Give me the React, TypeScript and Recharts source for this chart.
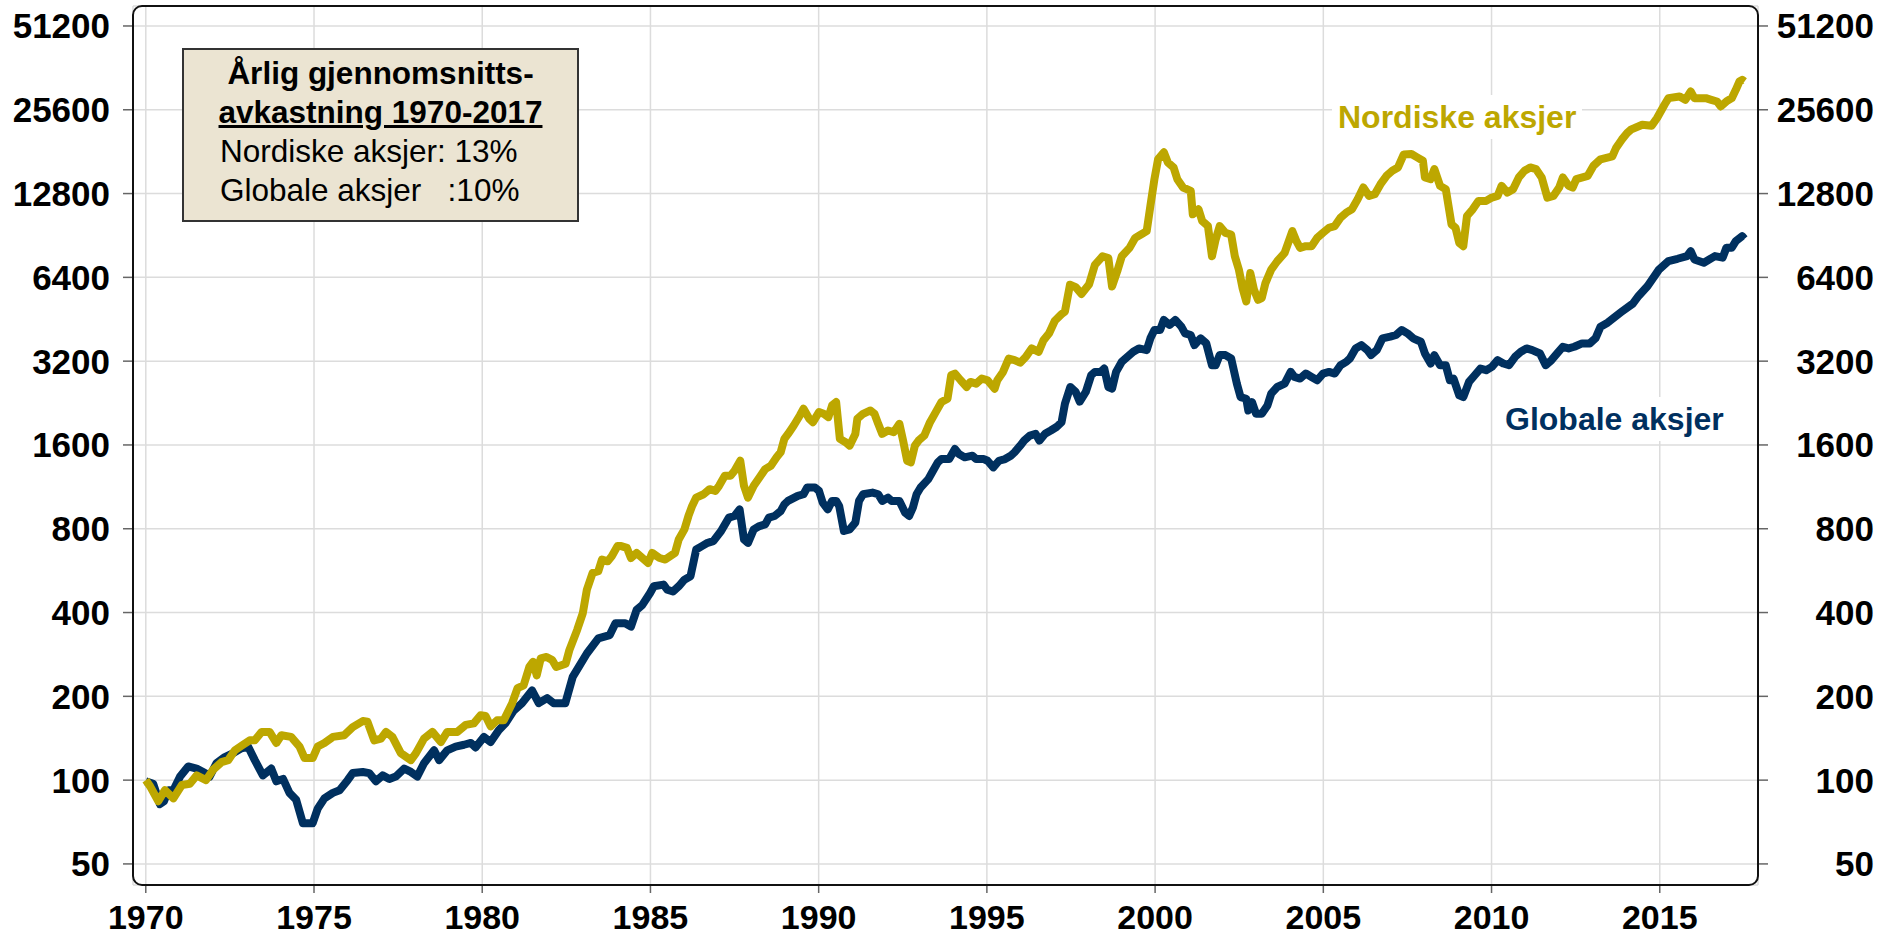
import { LineChart, Line, XAxis, YAxis, CartesianGrid } from 'recharts';

// Index level (1970 = 100). [year, value]
const NORDIC: [number, number][] = [
  [1970.0, 100], [1970.13, 95], [1970.37, 84], [1970.57, 92], [1970.82, 86], [1971.07, 96], [1971.31, 97],
  [1971.51, 104], [1971.79, 100], [1972.0, 109], [1972.25, 116], [1972.45, 118], [1972.65, 128], [1972.89, 134],
  [1973.09, 139], [1973.24, 139], [1973.44, 149], [1973.68, 149], [1973.88, 136], [1974.03, 145], [1974.32, 143],
  [1974.57, 132], [1974.72, 120], [1974.96, 120], [1975.11, 132], [1975.31, 136], [1975.56, 143], [1975.9, 145],
  [1976.15, 155], [1976.45, 163], [1976.59, 162], [1976.79, 139], [1976.99, 141], [1977.14, 149], [1977.33, 143],
  [1977.58, 125], [1977.88, 118], [1978.03, 125], [1978.27, 141], [1978.52, 149], [1978.77, 137], [1978.96, 149],
  [1979.26, 149], [1979.51, 158], [1979.75, 160], [1979.95, 171], [1980.1, 170], [1980.25, 156], [1980.44, 164],
  [1980.64, 164], [1980.89, 189], [1981.05, 214], [1981.23, 219], [1981.4, 255], [1981.51, 266], [1981.62, 238],
  [1981.74, 274], [1981.91, 277], [1982.08, 270], [1982.2, 255], [1982.48, 262], [1982.59, 293], [1982.82, 346],
  [1982.99, 398], [1983.11, 483], [1983.28, 555], [1983.45, 563], [1983.56, 620], [1983.73, 611], [1983.85, 637],
  [1984.02, 693], [1984.13, 693], [1984.3, 683], [1984.42, 628], [1984.59, 655], [1984.76, 628], [1984.93, 603],
  [1985.05, 655], [1985.27, 628], [1985.44, 620], [1985.73, 655], [1985.84, 732], [1986.01, 796], [1986.13, 889],
  [1986.24, 966], [1986.36, 1035], [1986.58, 1064], [1986.76, 1110], [1986.93, 1094], [1987.04, 1141], [1987.21, 1240],
  [1987.38, 1240], [1987.5, 1292], [1987.67, 1404], [1987.78, 1141], [1987.9, 1035], [1988.07, 1141], [1988.24, 1222],
  [1988.41, 1310], [1988.58, 1347], [1988.75, 1444], [1988.87, 1505], [1988.98, 1682], [1989.09, 1753], [1989.26, 1879],
  [1989.44, 2042], [1989.55, 2158], [1989.72, 1986], [1989.83, 1932], [1990.01, 2099], [1990.15, 2070], [1990.29, 2014],
  [1990.4, 2219], [1990.52, 2281], [1990.63, 1682], [1990.8, 1636], [1990.92, 1591], [1991.09, 1753], [1991.15, 1986],
  [1991.32, 2070], [1991.54, 2128], [1991.66, 2070], [1991.77, 1905], [1991.89, 1753], [1992.06, 1803], [1992.23, 1778],
  [1992.4, 1905], [1992.51, 1659], [1992.63, 1404], [1992.74, 1385], [1992.86, 1591], [1992.97, 1659], [1993.14, 1729],
  [1993.31, 1932], [1993.48, 2099], [1993.65, 2281], [1993.83, 2345], [1993.94, 2848], [1994.05, 2888], [1994.22, 2732],
  [1994.4, 2584], [1994.51, 2694], [1994.68, 2657], [1994.85, 2770], [1995.02, 2732], [1995.23, 2548], [1995.31, 2732],
  [1995.48, 2928], [1995.65, 3272], [1995.82, 3227], [1995.99, 3160], [1996.16, 3317], [1996.33, 3555], [1996.54, 3458],
  [1996.68, 3800], [1996.85, 4030], [1997.02, 4470], [1997.22, 4720], [1997.32, 4823], [1997.47, 6021], [1997.64, 5900],
  [1997.81, 5580], [1998.04, 6050], [1998.21, 7100], [1998.44, 7620], [1998.61, 7514], [1998.72, 5938], [1998.89, 6822],
  [1999.01, 7620], [1999.24, 8167], [1999.41, 8875], [1999.58, 9125], [1999.75, 9382], [1999.86, 11553], [1999.98, 14423],
  [2000.09, 17032], [2000.26, 18004], [2000.38, 16566], [2000.55, 15890], [2000.66, 14423], [2000.83, 13457], [2001.06, 13088],
  [2001.12, 10779], [2001.29, 11237], [2001.4, 10200], [2001.57, 9784], [2001.69, 7620], [2001.8, 8753], [2001.92, 9784],
  [2002.09, 9253], [2002.26, 9125], [2002.37, 7620], [2002.49, 6822], [2002.6, 5856], [2002.71, 5242], [2002.83, 6635],
  [2002.94, 5775], [2003.06, 5315], [2003.17, 5389], [2003.28, 6105], [2003.45, 6822], [2003.63, 7311], [2003.85, 7835],
  [2004.08, 9382], [2004.2, 8633], [2004.31, 8167], [2004.48, 8281], [2004.65, 8281], [2004.82, 8875], [2004.99, 9253],
  [2005.17, 9646], [2005.34, 9784], [2005.51, 10486], [2005.68, 10930], [2005.85, 11237], [2006.02, 12212], [2006.19, 13457],
  [2006.36, 12555], [2006.53, 12731], [2006.7, 13835], [2006.88, 14828], [2007.05, 15457], [2007.22, 15890], [2007.39, 17700],
  [2007.62, 17756], [2007.79, 17273], [2007.96, 16797], [2008.02, 14624], [2008.19, 14423], [2008.3, 15671], [2008.47, 13642],
  [2008.64, 13270], [2008.81, 9919], [2008.93, 9646], [2009.04, 8516], [2009.16, 8281], [2009.27, 10632], [2009.44, 11237],
  [2009.61, 12046], [2009.84, 12046], [2010.01, 12383], [2010.18, 12555], [2010.3, 13642], [2010.47, 12906], [2010.64, 13270],
  [2010.81, 14624], [2010.98, 15457], [2011.15, 15890], [2011.32, 15671], [2011.49, 14624], [2011.66, 12383], [2011.84, 12555],
  [2012.01, 13457], [2012.12, 14624], [2012.29, 13642], [2012.41, 13457], [2012.52, 14423], [2012.86, 14828], [2013.03, 16112],
  [2013.24, 17000], [2013.59, 17414], [2013.7, 18660], [2013.87, 19995], [2014.03, 21116], [2014.14, 21710], [2014.48, 22619],
  [2014.76, 22446], [2014.92, 23910], [2015.14, 26690], [2015.26, 28186], [2015.59, 28580], [2015.76, 27800], [2015.92, 29776],
  [2016.03, 28186], [2016.37, 28186], [2016.53, 27800], [2016.7, 27420], [2016.81, 26320], [2016.98, 27420], [2017.14, 28186],
  [2017.26, 30190], [2017.37, 32350], [2017.45, 32800], [2017.52, 32350],
];

const GLOBAL: [number, number][] = [
  [1970.0, 99], [1970.22, 97], [1970.42, 82], [1970.54, 84], [1970.67, 92], [1970.82, 92], [1971.02, 103], [1971.26, 112],
  [1971.51, 110], [1971.76, 106], [1971.9, 103], [1972.1, 115], [1972.35, 121], [1972.6, 125], [1972.84, 130], [1973.04, 132],
  [1973.24, 118], [1973.48, 104], [1973.73, 110], [1973.88, 99], [1974.08, 101], [1974.27, 90], [1974.47, 85], [1974.67, 70],
  [1974.96, 70], [1975.11, 79], [1975.31, 86], [1975.56, 90], [1975.76, 92], [1976.0, 100], [1976.15, 106], [1976.45, 107],
  [1976.64, 106], [1976.84, 99], [1977.04, 104], [1977.24, 101], [1977.43, 103], [1977.68, 110], [1977.88, 107], [1978.07, 103],
  [1978.27, 115], [1978.57, 128], [1978.72, 118], [1978.96, 128], [1979.21, 132], [1979.46, 134], [1979.66, 136], [1979.8, 131],
  [1980.05, 143], [1980.25, 137], [1980.49, 151], [1980.69, 160], [1980.94, 178], [1981.18, 189], [1981.48, 210], [1981.68, 189],
  [1981.93, 197], [1982.12, 189], [1982.47, 189], [1982.69, 235], [1982.87, 255], [1983.11, 285], [1983.45, 323], [1983.79, 332],
  [1983.96, 366], [1984.25, 366], [1984.42, 356], [1984.59, 409], [1984.76, 426], [1984.99, 470], [1985.1, 497], [1985.39, 504],
  [1985.5, 483], [1985.67, 476], [1985.84, 497], [1986.01, 525], [1986.19, 540], [1986.36, 674], [1986.53, 693], [1986.7, 712],
  [1986.87, 722], [1987.1, 785], [1987.33, 877], [1987.5, 889], [1987.65, 939], [1987.78, 732], [1987.9, 712], [1988.07, 796],
  [1988.24, 818], [1988.41, 829], [1988.52, 877], [1988.69, 889], [1988.87, 926], [1988.98, 979], [1989.09, 1007], [1989.38, 1050],
  [1989.55, 1064], [1989.66, 1125], [1989.89, 1125], [1990.01, 1094], [1990.12, 993], [1990.27, 939], [1990.4, 1007], [1990.52, 1007],
  [1990.61, 966], [1990.75, 785], [1990.92, 796], [1991.09, 841], [1991.2, 1007], [1991.32, 1064], [1991.6, 1079], [1991.77, 1064],
  [1991.89, 1007], [1992.06, 1035], [1992.17, 1007], [1992.4, 1007], [1992.57, 914], [1992.69, 889], [1992.8, 953], [1992.91, 1064],
  [1993.03, 1125], [1993.26, 1206], [1993.37, 1274], [1993.54, 1385], [1993.65, 1424], [1993.88, 1424], [1994.05, 1547], [1994.17, 1484],
  [1994.34, 1444], [1994.57, 1464], [1994.68, 1424], [1994.91, 1424], [1995.02, 1404], [1995.19, 1329], [1995.36, 1404], [1995.54, 1424],
  [1995.71, 1464], [1995.82, 1505], [1995.99, 1591], [1996.11, 1659], [1996.28, 1729], [1996.45, 1753], [1996.56, 1659], [1996.73, 1755],
  [1996.9, 1803], [1997.08, 1860], [1997.22, 1932], [1997.32, 2250], [1997.48, 2584], [1997.64, 2480], [1997.76, 2290], [1997.94, 2480],
  [1998.1, 2848], [1998.21, 2928], [1998.38, 2928], [1998.49, 3010], [1998.61, 2584], [1998.72, 2548], [1998.84, 2928], [1999.01, 3182],
  [1999.18, 3317], [1999.35, 3458], [1999.52, 3555], [1999.75, 3507], [1999.86, 3864], [1999.98, 4141], [2000.15, 4141], [2000.26, 4500],
  [2000.43, 4317], [2000.6, 4500], [2000.78, 4257], [2000.89, 4028], [2001.06, 3972], [2001.17, 3655], [2001.35, 3864], [2001.52, 3707],
  [2001.69, 3095], [2001.8, 3095], [2001.92, 3364], [2002.09, 3364], [2002.26, 3272], [2002.43, 2657], [2002.54, 2378], [2002.71, 2345],
  [2002.77, 2128], [2002.88, 2281], [2003.0, 2070], [2003.17, 2070], [2003.34, 2219], [2003.45, 2445], [2003.63, 2584], [2003.85, 2657],
  [2004.03, 2928], [2004.14, 2808], [2004.31, 2770], [2004.48, 2888], [2004.65, 2808], [2004.82, 2732], [2004.99, 2888], [2005.17, 2928],
  [2005.34, 2888], [2005.51, 3095], [2005.68, 3182], [2005.79, 3272], [2005.96, 3555], [2006.13, 3655], [2006.31, 3507], [2006.42, 3364],
  [2006.59, 3507], [2006.76, 3864], [2006.99, 3918], [2007.16, 3972], [2007.33, 4141], [2007.5, 4028], [2007.67, 3864], [2007.9, 3758],
  [2008.02, 3410], [2008.19, 3138], [2008.3, 3364], [2008.47, 3095], [2008.64, 3095], [2008.76, 2732], [2008.87, 2770], [2009.04, 2411],
  [2009.16, 2378], [2009.33, 2694], [2009.5, 2848], [2009.67, 3010], [2009.84, 2969], [2010.01, 3052], [2010.18, 3227], [2010.35, 3138],
  [2010.52, 3095], [2010.7, 3317], [2010.87, 3458], [2011.04, 3555], [2011.21, 3507], [2011.44, 3410], [2011.61, 3095], [2011.78, 3227],
  [2011.95, 3410], [2012.12, 3605], [2012.29, 3555], [2012.46, 3605], [2012.69, 3707], [2012.92, 3707], [2013.09, 3864], [2013.24, 4257],
  [2013.45, 4400], [2013.65, 4600], [2013.85, 4800], [2014.05, 5000], [2014.2, 5150], [2014.37, 5487], [2014.64, 5960], [2014.98, 6836],
  [2015.26, 7322], [2015.53, 7464], [2015.81, 7630], [2015.92, 7950], [2016.03, 7424], [2016.31, 7225], [2016.64, 7630], [2016.87, 7530],
  [2016.98, 8175], [2017.14, 8175], [2017.26, 8640], [2017.45, 9000], [2017.52, 8804],
];

const Y_TICKS = [50, 100, 200, 400, 800, 1600, 3200, 6400, 12800, 25600, 51200];
const X_TICKS = [1970, 1975, 1980, 1985, 1990, 1995, 2000, 2005, 2010, 2015];

const GOLD = '#bda700';
const NAVY = '#00305f';
const FONT = "'Liberation Sans', Arial, sans-serif";

const tickStyle = { fontSize: 35, fontWeight: 700, fill: '#000', fontFamily: FONT };
const xTickStyle = { ...tickStyle, fontSize: 34 };

// right-hand labels are right-aligned in the original
function RightTick({ x, y, payload }: any) {
  return (
    <text x={x + 96} y={y} dy="0.355em" textAnchor="end" {...tickStyle}>
      {payload.value}
    </text>
  );
}

export default function App() {
  const nordic = NORDIC.map(([year, value]) => ({ year, value }));
  const global = GLOBAL.map(([year, value]) => ({ year, value }));

  return (
    <div style={{ position: 'absolute', left: 0, top: 0, width: 1885, height: 937, background: '#fff', fontFamily: FONT }}>
      <LineChart width={1885} height={937} margin={{ top: 6, right: 0, bottom: 0, left: 0 }}>
        <CartesianGrid yAxisId="l" stroke="#dcdcdc" strokeWidth={1.5} />
        <XAxis
          type="number"
          dataKey="year"
          domain={[1969.62, 2017.92]}
          ticks={X_TICKS}
          allowDataOverflow
          height={52}
          axisLine={false}
          tickSize={8}
          tickMargin={12}
          tickLine={{ stroke: '#666', strokeWidth: 1.5 }}
          tick={xTickStyle}
        />
        <YAxis
          yAxisId="l"
          scale="log"
          domain={[42, 60400]}
          ticks={Y_TICKS}
          allowDataOverflow
          width={133}
          axisLine={false}
          tickSize={10}
          tickMargin={13}
          tickLine={{ stroke: '#666', strokeWidth: 1.5 }}
          tick={tickStyle}
        />
        <YAxis
          yAxisId="r"
          orientation="right"
          scale="log"
          domain={[42, 60400]}
          ticks={Y_TICKS}
          allowDataOverflow
          width={127}
          axisLine={false}
          tickSize={10}
          tickMargin={10}
          tickLine={{ stroke: '#666', strokeWidth: 1.5 }}
          tick={<RightTick />}
        />
        <Line yAxisId="l" data={global} dataKey="value" type="linear" stroke={NAVY} strokeWidth={8} strokeLinejoin="round" dot={false} isAnimationActive={false} />
        <Line yAxisId="l" data={nordic} dataKey="value" type="linear" stroke={GOLD} strokeWidth={8} strokeLinejoin="round" dot={false} isAnimationActive={false} />
      </LineChart>

      {/* rounded plot frame */}
      <div style={{ position: 'absolute', left: 132, top: 5, width: 1627, height: 881, border: '2.5px solid #111', borderRadius: 10, boxSizing: 'border-box', pointerEvents: 'none' }} />

      {/* info box */}
      <div style={{ position: 'absolute', left: 182, top: 48, width: 397, height: 174, boxSizing: 'border-box', background: '#ebe4d2', border: '2px solid #333', padding: '4px 0 0 36px', fontSize: 31.5, lineHeight: '39px', color: '#000' }}>
        <div style={{ fontWeight: 700, marginLeft: -36, textAlign: 'center', whiteSpace: 'nowrap' }}>Årlig gjennomsnitts-</div>
        <div style={{ fontWeight: 700, marginLeft: -36, textAlign: 'center', whiteSpace: 'nowrap' }}>
          <span style={{ textDecoration: 'underline' }}>avkastning 1970-2017</span>
        </div>
        <div style={{ whiteSpace: 'pre' }}>Nordiske aksjer: 13%</div>
        <div style={{ whiteSpace: 'pre' }}>Globale aksjer   :10%</div>
      </div>

      <div style={{ position: 'absolute', left: 1332, top: 95, height: 44, lineHeight: '44px', padding: '0 6px', background: '#fff', color: GOLD, fontSize: 32, fontWeight: 700 }}>
        Nordiske aksjer
      </div>
      <div style={{ position: 'absolute', left: 1499, top: 397, height: 44, lineHeight: '44px', padding: '0 6px', background: '#fff', color: NAVY, fontSize: 32, fontWeight: 700 }}>
        Globale aksjer
      </div>
    </div>
  );
}
